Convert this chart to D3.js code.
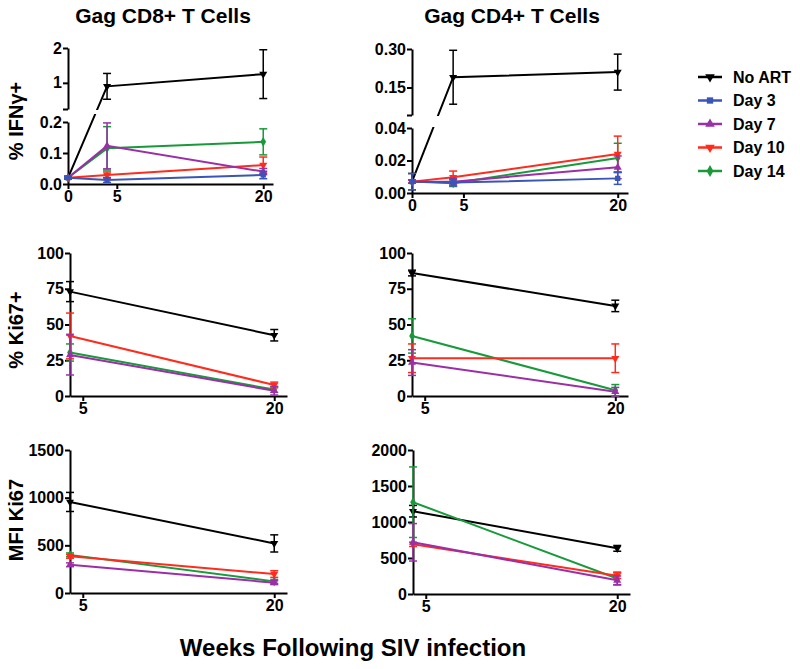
<!DOCTYPE html>
<html>
<head>
<meta charset="utf-8">
<title>Gag-specific T cells after ART</title>
<script src="https://cdn.jsdelivr.net/npm/d3@7"></script>
<style>
body{margin:0;background:#fff;}
svg{font-family:"Liberation Sans",Arial,sans-serif;font-weight:bold;}
.axis path,.axis line{stroke:#000;stroke-width:2px;}
.axis text{font-size:16px;font-weight:bold;fill:#000;font-family:"Liberation Sans",Arial,sans-serif;}
</style>
</head>
<body>
<script>
// groups, in legend order
const groups = ["No ART", "Day 3", "Day 7", "Day 10", "Day 14"];
const groupColors = ["#000000", "#3a55b8", "#9a2fa8", "#ff2b1c", "#189a3a"];
const groupSymbols = ["down", "square", "up", "down", "diamond"];

const weeksEarly = [0, 4, 20];
const weeksLate = [4, 20];
const xTicksEarly = [0, 5, 20];
const xTicksLate = [5, 20];

// % IFNg+ , Gag CD8+ (mean, sem) per group at weeksEarly
const cd8IfnMean = [[0.02, 0.9, 1.25], [0.02, 0.013, 0.029], [0.02, 0.123, 0.04], [0.02, 0.029, 0.061], [0.02, 0.115, 0.136]];
const cd8IfnErr = [[0.004, 0.37, 0.7], [0.003, 0.008, 0.012], [0.003, 0.074, 0.01], [0.003, 0.01, 0.026], [0.003, 0.07, 0.042]];
// % IFNg+ , Gag CD4+
const cd4IfnMean = [[0.007, 0.19, 0.21], [0.007, 0.0064, 0.009], [0.007, 0.007, 0.0158], [0.007, 0.0097, 0.024], [0.007, 0.006, 0.0216]];
const cd4IfnErr = [[0.005, 0.105, 0.07], [0.005, 0.002, 0.0037], [0.001, 0.002, 0.007], [0.001, 0.0038, 0.011], [0.001, 0.002, 0.009]];
// % Ki67+ at weeksLate (no Day 3 data)
const cd8KiMean = [[73, 42.5], null, [28.7, 3.7], [42, 7.7], [30.4, 4.5]];
const cd8KiErr = [[7, 4], null, [14, 3], [16, 2], [6, 2]];
const cd4KiMean = [[86, 63], null, [23.4, 3], [26.4, 26.4], [42, 4]];
const cd4KiErr = [[2, 4], null, [9, 3], [10, 10], [12, 4]];
// MFI Ki67
const cd8MfiMean = [[955, 520], null, [296, 108], [385, 199], [400, 122]];
const cd8MfiErr = [[100, 90], null, [20, 20], [20, 35], [20, 20]];
const cd4MfiMean = [[1150, 634], null, [718, 190], [690, 255], [1275, 215]];
const cd4MfiErr = [[80, 40], null, [260, 60], [30, 40], [490, 90]];

const drawOrder = [0, 4, 3, 2, 1];

const svg = d3.select("body").append("svg").attr("width", 800).attr("height", 669);
const defs = svg.append("defs");

function symbolPath(kind, size) {
    const t = {down: d3.symbolTriangle, up: d3.symbolTriangle, square: d3.symbolSquare, diamond: d3.symbolDiamond}[kind];
    return d3.symbol().type(t).size(size)();
}

function drawPanel(p) {
    const g = svg.append("g");
    const x = d3.scaleLinear().domain(p.xDomain).range(p.xRange);
    const y = d3.scaleLinear().domain(p.yDomain).range(p.yRange);
    const y0 = p.yRange[0];

    g.append("g").attr("class", "axis")
        .attr("transform", `translate(0,${y0})`)
        .call(d3.axisBottom(x).tickValues(p.xTicks).tickSize(5).tickSizeOuter(0).tickPadding(2));

    p.segments.forEach(seg => {
        const s = d3.scaleLinear().domain(seg.domain).range(seg.domain.map(y));
        const f = d3.format(seg.fmt);
        g.append("g").attr("class", "axis")
            .attr("transform", `translate(${p.xRange[0]},0)`)
            .call(d3.axisLeft(s).tickValues(seg.ticks).tickSize(5).tickSizeOuter(0).tickPadding(1)
                .tickFormat(d => seg.blank && d === seg.domain[0] ? "" : f(d)));
    });

    let clip = null;
    if (p.gap) {
        clip = "clip" + p.id;
        const cp = defs.append("clipPath").attr("id", clip);
        cp.append("rect").attr("x", 0).attr("y", 0).attr("width", 800).attr("height", p.gap[0]);
        cp.append("rect").attr("x", 0).attr("y", p.gap[1]).attr("width", 800).attr("height", 700);
    }

    const line = d3.line().x(d => x(d.w)).y(d => y(d.m));
    drawOrder.forEach(i => {
        if (!p.means[i]) return;
        const pts = p.weeks.map((w, j) => ({w: w, m: p.means[i][j], e: p.errs[i][j]}));
        const col = groupColors[i];
        const sg = g.append("g");
        sg.append("path").datum(pts)
            .attr("d", line).attr("fill", "none").attr("stroke", col).attr("stroke-width", 2)
            .attr("clip-path", clip ? `url(#${clip})` : null);
        pts.forEach(d => {
            const cx = x(d.w), top = y(d.m + d.e), bot = y(Math.max(d.m - d.e, p.yDomain[0]));
            sg.append("line").attr("x1", cx).attr("x2", cx).attr("y1", top).attr("y2", bot)
                .attr("stroke", col).attr("stroke-width", 1.5);
            [top, bot].forEach(yy => sg.append("line")
                .attr("x1", cx - 4).attr("x2", cx + 4).attr("y1", yy).attr("y2", yy)
                .attr("stroke", col).attr("stroke-width", 1.5));
            sg.append("path").attr("d", symbolPath(groupSymbols[i], 28))
                .attr("transform", `translate(${cx},${y(d.m)})` + (groupSymbols[i] === "down" ? " rotate(180)" : ""))
                .attr("fill", col);
        });
    });
}

drawPanel({id: "a", xDomain: [0, 21], xRange: [68, 273], xTicks: xTicksEarly,
    yDomain: [0, 0.2, 0.25, 2], yRange: [184, 122, 109, 48], gap: [110, 114],
    segments: [{domain: [0, 0.2], ticks: [0, 0.1, 0.2], fmt: ".1f"},
               {domain: [0.25, 2], ticks: [0.25, 1, 2], fmt: "d", blank: true}],
    weeks: weeksEarly, means: cd8IfnMean, errs: cd8IfnErr});

drawPanel({id: "b", xDomain: [0, 21], xRange: [412, 628], xTicks: xTicksEarly,
    yDomain: [0, 0.04, 0.043, 0.3], yRange: [193, 128, 115, 49], gap: [116, 127],
    segments: [{domain: [0, 0.04], ticks: [0, 0.02, 0.04], fmt: ".2f"},
               {domain: [0.043, 0.3], ticks: [0.043, 0.15, 0.3], fmt: ".2f", blank: true}],
    weeks: weeksEarly, means: cd4IfnMean, errs: cd4IfnErr});

drawPanel({id: "c", xDomain: [4, 21], xRange: [70, 287], xTicks: xTicksLate,
    yDomain: [0, 100], yRange: [396, 253],
    segments: [{domain: [0, 100], ticks: [0, 25, 50, 75, 100], fmt: "d"}],
    weeks: weeksLate, means: cd8KiMean, errs: cd8KiErr});

drawPanel({id: "d", xDomain: [4, 21], xRange: [412, 628], xTicks: xTicksLate,
    yDomain: [0, 100], yRange: [396, 253],
    segments: [{domain: [0, 100], ticks: [0, 25, 50, 75, 100], fmt: "d"}],
    weeks: weeksLate, means: cd4KiMean, errs: cd4KiErr});

drawPanel({id: "e", xDomain: [4, 21], xRange: [70, 287], xTicks: xTicksLate,
    yDomain: [0, 1500], yRange: [593, 450],
    segments: [{domain: [0, 1500], ticks: [0, 500, 1000, 1500], fmt: "d"}],
    weeks: weeksLate, means: cd8MfiMean, errs: cd8MfiErr});

drawPanel({id: "f", xDomain: [4, 21], xRange: [413, 630], xTicks: xTicksLate,
    yDomain: [0, 2000], yRange: [594, 450],
    segments: [{domain: [0, 2000], ticks: [0, 500, 1000, 1500, 2000], fmt: "d"}],
    weeks: weeksLate, means: cd4MfiMean, errs: cd4MfiErr});

// titles
svg.append("text").attr("x", 163).attr("y", 23).attr("text-anchor", "middle")
    .attr("font-size", 21).text("Gag CD8+ T Cells");
svg.append("text").attr("x", 512).attr("y", 23).attr("text-anchor", "middle")
    .attr("font-size", 21).text("Gag CD4+ T Cells");

[["% IFNγ+", 121], ["% Ki67+", 330], ["MFI Ki67", 520]].forEach(d => {
    svg.append("text").attr("transform", `translate(23,${d[1]}) rotate(-90)`)
        .attr("text-anchor", "middle").attr("font-size", 20).text(d[0]);
});

svg.append("text").attr("x", 353).attr("y", 656).attr("text-anchor", "middle")
    .attr("font-size", 24).text("Weeks Following SIV infection");

// legend
const leg = svg.append("g").attr("transform", "translate(698,77)");
groups.forEach((name, i) => {
    const row = leg.append("g").attr("transform", `translate(0,${i * 23.5})`);
    row.append("line").attr("x1", 0).attr("x2", 24).attr("stroke", groupColors[i]).attr("stroke-width", 2.5);
    row.append("path").attr("d", symbolPath(groupSymbols[i], 40))
        .attr("transform", "translate(12,0)" + (groupSymbols[i] === "down" ? " rotate(180)" : ""))
        .attr("fill", groupColors[i]);
    row.append("text").attr("x", 35).attr("y", 5.5).attr("font-size", 16).text(name);
});
</script>
</body>
</html>
